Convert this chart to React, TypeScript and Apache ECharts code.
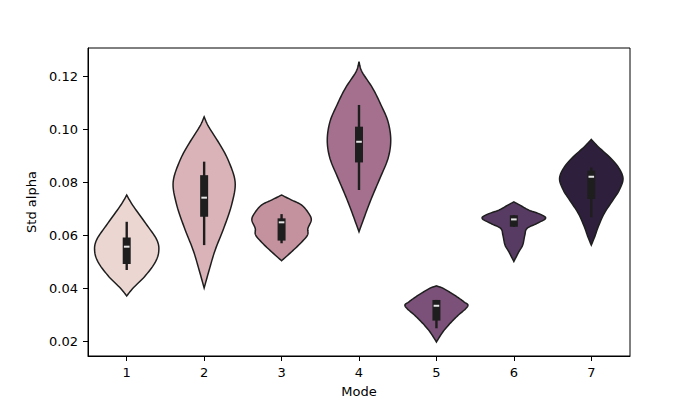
import React, { useEffect, useRef } from "react";
import * as echarts from "echarts";

const MODES = ["1", "2", "3", "4", "5", "6", "7"];
const Y_TICKS = [0.02, 0.04, 0.06, 0.08, 0.1, 0.12];
const Y_MIN = 0.01434;
const Y_MAX = 0.1306;

// Violin outlines: [value, half-width as fraction of the category band]
const violin1 = [[0.0751, 0], [0.0735, 0.03], [0.0707, 0.09], [0.0644, 0.245], [0.0581, 0.39], [0.0536, 0.413], [0.0493, 0.36], [0.0443, 0.23], [0.0399, 0.08], [0.037, 0]];
const violin2 = [[0.1046, 0], [0.1009, 0.058], [0.0946, 0.194], [0.0883, 0.31], [0.0801, 0.4], [0.072, 0.36], [0.0631, 0.26], [0.0543, 0.142], [0.0468, 0.065], [0.04, 0]];
const violin3 = [[0.0751, 0], [0.0732, 0.13], [0.0713, 0.26], [0.0682, 0.35], [0.0657, 0.384], [0.0625, 0.34], [0.06, 0.335], [0.0569, 0.245], [0.0537, 0.13], [0.0503, 0]];
const violin4 = [[0.1254, 0], [0.1216, 0.039], [0.1154, 0.177], [0.1091, 0.284], [0.1028, 0.375], [0.0958, 0.41], [0.0889, 0.375], [0.0814, 0.27], [0.0738, 0.16], [0.0675, 0.078], [0.0612, 0]];
const violin5 = [[0.0408, 0], [0.04, 0.078], [0.0385, 0.168], [0.0366, 0.27], [0.0347, 0.36], [0.0336, 0.407], [0.0321, 0.375], [0.0298, 0.284], [0.0272, 0.194], [0.0242, 0.103], [0.0215, 0.039], [0.0196, 0]];
const violin6 = [[0.0725, 0], [0.0713, 0.078], [0.0694, 0.194], [0.0678, 0.345], [0.0663, 0.41], [0.0644, 0.3], [0.0625, 0.17], [0.06, 0.142], [0.0562, 0.114], [0.0537, 0.065], [0.05, 0]];
const violin7 = [[0.0961, 0], [0.0933, 0.09], [0.0895, 0.233], [0.0858, 0.345], [0.0814, 0.41], [0.077, 0.362], [0.0732, 0.28], [0.0682, 0.168], [0.0631, 0.09], [0.0594, 0.045], [0.0562, 0]];
const VIOLINS = [violin1, violin2, violin3, violin4, violin5, violin6, violin7];

// Inner box: [whisker low, q1, median, q3, whisker high]
const BOXES = [
  [0.0468, 0.0491, 0.0556, 0.0591, 0.065],
  [0.0562, 0.0669, 0.0741, 0.0826, 0.0877],
  [0.0569, 0.0579, 0.0648, 0.0663, 0.0679],
  [0.077, 0.0874, 0.0952, 0.1009, 0.1091],
  [0.0248, 0.0277, 0.0333, 0.0355, 0.0355],
  [0.0631, 0.0631, 0.0659, 0.0675, 0.0675],
  [0.0667, 0.0736, 0.082, 0.0843, 0.0855],
];

const COLORS = ["#ebd6d2", "#d9b3b7", "#c4919f", "#a4708e", "#7c5179", "#583b63", "#2e1f3d"];
const EDGE = "#1e1e1e";
const FONT = "DejaVu Sans";

function spline(pts: number[][], n: number): number[][] {
  const out: number[][] = [];
  for (let i = 0; i < pts.length - 1; i++) {
    const p0 = pts[Math.max(0, i - 1)];
    const p1 = pts[i];
    const p2 = pts[i + 1];
    const p3 = pts[Math.min(pts.length - 1, i + 2)];
    for (let k = 0; k < n; k++) {
      const t = k / n;
      const t2 = t * t;
      const t3 = t2 * t;
      const f = (a: number, b: number, c: number, d: number) =>
        0.5 * (2 * b + (-a + c) * t + (2 * a - 5 * b + 4 * c - d) * t2 + (-a + 3 * b - 3 * c + d) * t3);
      out.push([f(p0[0], p1[0], p2[0], p3[0]), f(p0[1], p1[1], p2[1], p3[1])]);
    }
  }
  out.push(pts[pts.length - 1]);
  return out;
}

export default function App() {
  const ref = useRef<HTMLDivElement>(null);
  useEffect(() => {
    if (!ref.current) return;
    const chart = echarts.init(ref.current, undefined, { renderer: "svg" });
    const option: any = {
      animation: false,
      backgroundColor: "#ffffff",
      grid: {
        left: 88,
        right: 70,
        top: 48,
        bottom: 44,
        outerBoundsMode: "none",
        containLabel: false,
        show: true,
        borderColor: "#000",
        borderWidth: 1,
        backgroundColor: "transparent",
      },
      xAxis: {
        type: "category",
        data: MODES,
        boundaryGap: true,
        name: "Mode",
        nameLocation: "middle",
        nameGap: 29,
        nameTextStyle: { fontFamily: FONT, fontSize: 13, color: "#000" },
        axisLine: { show: true, lineStyle: { color: "#000", width: 1 } },
        axisTick: { show: true, alignWithLabel: true, length: 5, lineStyle: { color: "#000", width: 1 } },
        axisLabel: { fontFamily: FONT, fontSize: 13, color: "#000", margin: 10 },
        splitLine: { show: false },
      },
      yAxis: {
        type: "value",
        min: Y_MIN,
        max: Y_MAX,
        name: "Std alpha",
        nameLocation: "middle",
        nameGap: 48,
        nameTextStyle: { fontFamily: FONT, fontSize: 13, color: "#000" },
        axisLine: { show: true, lineStyle: { color: "#000", width: 1 } },
        axisTick: { show: true, length: 5, customValues: Y_TICKS, lineStyle: { color: "#000", width: 1 } },
        axisLabel: {
          fontFamily: FONT,
          fontSize: 13,
          color: "#000",
          margin: 10,
          customValues: Y_TICKS,
          formatter: (v: number) => v.toFixed(2),
        },
        splitLine: { show: false },
      },
      series: [
        {
          type: "custom",
          data: MODES.map((_, i) => [i]),
          encode: { x: 0 },
          renderItem: (params: any, api: any) => {
            const i = params.dataIndex;
            const prof = VIOLINS[i];
            const box = BOXES[i];
            const band = api.size([1, 0])[0];
            const cx = api.coord([i, Y_MIN])[0];
            const yOf = (v: number) => api.coord([i, v])[1];
            const rightPts = prof.map(([v, w]) => [cx + w * band, yOf(v)]);
            const leftPts = prof.map(([v, w]) => [cx - w * band, yOf(v)]);
            const rs = spline(rightPts, 8);
            const ls = spline(leftPts, 8).reverse();
            const points = rs.concat(ls.slice(1, ls.length - 1));
            const yLow = yOf(box[0]);
            const yQ1 = yOf(box[1]);
            const yMed = yOf(box[2]);
            const yQ3 = yOf(box[3]);
            const yHigh = yOf(box[4]);
            return {
              type: "group",
              children: [
                {
                  type: "polygon",
                  shape: { points },
                  style: { fill: COLORS[i], stroke: EDGE, lineWidth: 1.5 },
                },
                {
                  type: "rect",
                  shape: { x: cx - 1.2, y: yHigh, width: 2.4, height: yLow - yHigh },
                  style: { fill: EDGE },
                },
                {
                  type: "rect",
                  shape: { x: cx - 4, y: yQ3, width: 8, height: Math.max(yQ1 - yQ3, 1) },
                  style: { fill: EDGE },
                },
                {
                  type: "rect",
                  shape: { x: cx - 2.8, y: yMed - 1, width: 5.6, height: 2 },
                  style: { fill: "#e6e6e6" },
                },
              ],
            };
          },
        },
      ],
    };
    chart.setOption(option);
    return () => chart.dispose();
  }, []);
  return <div ref={ref} style={{ width: 700, height: 400, position: "absolute", left: 0, top: 0 }} />;
}
